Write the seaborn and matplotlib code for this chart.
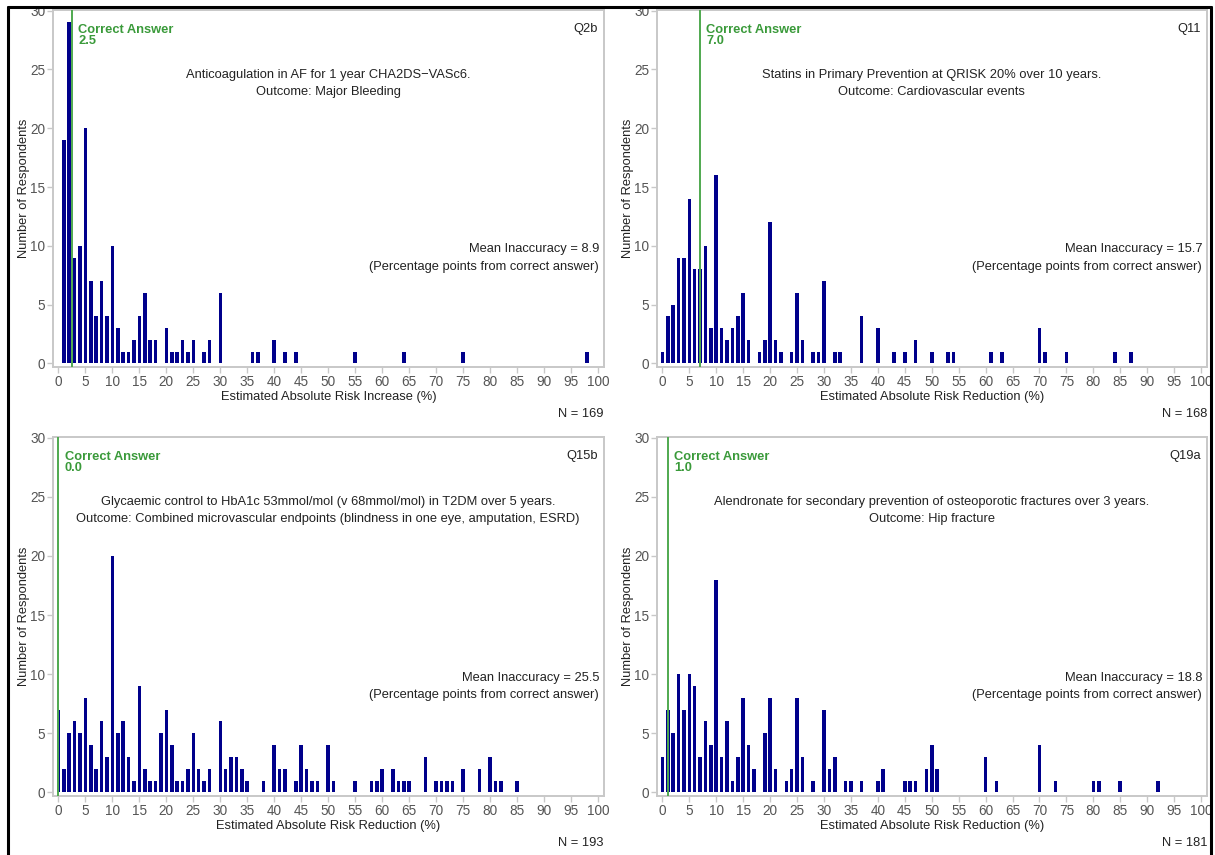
import matplotlib
matplotlib.use("Agg")
import matplotlib.pyplot as plt
import seaborn as sns
import pandas as pd
from matplotlib.lines import Line2D

# ---------------- data ----------------
q2b_x = [1, 2, 3, 4, 5, 6, 7, 8, 9, 10, 11, 12, 13, 14, 15, 16, 17, 18, 20, 21, 22, 23, 24, 25,
         27, 28, 30, 36, 37, 40, 42, 44, 55, 64, 75, 98]
q2b_y = [19, 29, 9, 10, 20, 7, 4, 7, 4, 10, 3, 1, 1, 2, 4, 6, 2, 2, 3, 1, 1, 2, 1, 2,
         1, 2, 6, 1, 1, 2, 1, 1, 1, 1, 1, 1]

q11_x = [0, 1, 2, 3, 4, 5, 6, 7, 8, 9, 10, 11, 12, 13, 14, 15, 16, 18, 19, 20, 21, 22, 24, 25,
         26, 28, 29, 30, 32, 33, 37, 40, 43, 45, 47, 50, 53, 54, 61, 63, 70, 71, 75, 84, 87]
q11_y = [1, 4, 5, 9, 9, 14, 8, 8, 10, 3, 16, 3, 2, 3, 4, 6, 2, 1, 2, 12, 2, 1, 1, 6,
         2, 1, 1, 7, 1, 1, 4, 3, 1, 1, 2, 1, 1, 1, 1, 1, 3, 1, 1, 1, 1]

q15b_x = [0, 1, 2, 3, 4, 5, 6, 7, 8, 9, 10, 11, 12, 13, 14, 15, 16, 17, 18, 19, 20, 21, 22, 23,
          24, 25, 26, 27, 28, 30, 31, 32, 33, 34, 35, 38, 40, 41, 42, 44, 45, 46, 47, 48, 50, 51,
          55, 58, 59, 60, 62, 63, 64, 65, 68, 70, 71, 72, 73, 75, 78, 80, 81, 82, 85]
q15b_y = [7, 2, 5, 6, 5, 8, 4, 2, 6, 3, 20, 5, 6, 3, 1, 9, 2, 1, 1, 5, 7, 4, 1, 1,
          2, 5, 2, 1, 2, 6, 2, 3, 3, 2, 1, 1, 4, 2, 2, 1, 4, 2, 1, 1, 4, 1,
          1, 1, 1, 2, 2, 1, 1, 1, 3, 1, 1, 1, 1, 2, 2, 3, 1, 1, 1]

q19a_x = [0, 1, 2, 3, 4, 5, 6, 7, 8, 9, 10, 11, 12, 13, 14, 15, 16, 17, 19, 20, 21, 23, 24, 25,
          26, 28, 30, 31, 32, 34, 35, 37, 40, 41, 45, 46, 47, 49, 50, 51, 60, 62, 70, 73, 80, 81,
          85, 92]
q19a_y = [3, 7, 5, 10, 7, 10, 9, 3, 6, 4, 18, 3, 6, 1, 3, 8, 4, 2, 5, 8, 2, 1, 2, 8,
          3, 1, 7, 2, 3, 1, 1, 1, 1, 2, 1, 1, 1, 2, 4, 2, 3, 1, 4, 1, 1, 1,
          1, 1]

codes = ["Q2b", "Q11", "Q15b", "Q19a"]
correct = [2.5, 7.0, 0.0, 1.0]
titles1 = ["Anticoagulation in AF for 1 year CHA2DS\u2212VASc6.",
           "Statins in Primary Prevention at QRISK 20% over 10 years.",
           "Glycaemic control to HbA1c 53mmol/mol (v 68mmol/mol) in T2DM over 5 years.",
           "Alendronate for secondary prevention of osteoporotic fractures over 3 years."]
titles2 = ["Outcome: Major Bleeding",
           "Outcome: Cardiovascular events",
           "Outcome: Combined microvascular endpoints (blindness in one eye, amputation, ESRD)",
           "Outcome: Hip fracture"]
mean_inacc = ["8.9", "15.7", "25.5", "18.8"]
n_resp = [169, 168, 193, 181]
xlabels = ["Estimated Absolute Risk Increase (%)",
           "Estimated Absolute Risk Reduction (%)",
           "Estimated Absolute Risk Reduction (%)",
           "Estimated Absolute Risk Reduction (%)"]
xticks = list(range(0, 101, 5))
yticks = list(range(0, 31, 5))

series = [(q2b_x, q2b_y), (q11_x, q11_y), (q15b_x, q15b_y), (q19a_x, q19a_y)]

# ---------------- style ----------------
sns.set_theme(style="white")
plt.rcParams["font.family"] = ["Liberation Sans", "DejaVu Sans"]

W, H = 1215, 855
fig = plt.figure(figsize=(W / 100, H / 100), dpi=100)

navy = "#00008B"
green_line = "#4fa94f"
green_text = "#3a9a3a"
spine_col = "#c8c8c8"
tick_col = "#555555"
txt_col = "#222222"
fs = 9.3

# axes rectangles in pixels: (left, top, right, bottom)
rects = [(53, 10, 604, 367), (657, 10, 1207, 367),
         (53, 437, 604, 796), (657, 437, 1207, 796)]

for i, ((xs, ys), (l, t, r, b)) in enumerate(zip(series, rects)):
    ax = fig.add_axes([l / W, 1 - b / H, (r - l) / W, (b - t) / H])
    df = pd.DataFrame({"x": xs, "y": ys})
    sns.barplot(data=df, x="x", y="y", native_scale=True, width=0.66,
                color=navy, saturation=1, errorbar=None, linewidth=0, ax=ax)
    ax.axvline(correct[i], color=green_line, lw=1.4, zorder=5)
    ax.set_xlim(-1, 101.1)
    ax.set_ylim(-0.3, 30.05)
    ax.set_xticks(xticks)
    ax.set_xticklabels([str(v) for v in xticks])
    ax.set_yticks(yticks)
    ax.set_yticklabels([str(v) for v in yticks])
    for s in ax.spines.values():
        s.set_color(spine_col)
        s.set_linewidth(1.4)
    ax.tick_params(axis="both", which="major", direction="out", length=4, width=1,
                   color=spine_col, labelcolor=tick_col, labelsize=9.8, pad=1.5,
                   bottom=True, left=True)
    ax.set_xlabel(xlabels[i], fontsize=fs, color=txt_col, labelpad=1.5)
    ax.set_ylabel("Number of Respondents", fontsize=fs, color=txt_col, labelpad=0.5)

    ax.annotate("Correct Answer\n%.1f" % correct[i], xy=(correct[i], 1.0),
                xycoords=("data", "axes fraction"), xytext=(4.5, -10),
                textcoords="offset points", ha="left", va="top", color=green_text,
                fontsize=fs, fontweight="bold", linespacing=0.85)
    ax.annotate(codes[i], xy=(1.0, 1.0), xycoords="axes fraction", xytext=(-4.5, -9),
                textcoords="offset points", ha="right", va="top", fontsize=fs,
                color=txt_col)
    ax.text(50, 24.55, titles1[i], ha="center", va="center", fontsize=fs, color=txt_col)
    ax.text(50, 23.1, titles2[i], ha="center", va="center", fontsize=fs, color=txt_col)
    ax.text(100.2, 9.7, "Mean Inaccuracy = " + mean_inacc[i], ha="right", va="center",
            fontsize=fs, color=txt_col)
    ax.text(100.2, 8.2, "(Percentage points from correct answer)", ha="right",
            va="center", fontsize=fs, color=txt_col)
    ax.annotate("N = %d" % n_resp[i], xy=(1.0, 0.0), xycoords="axes fraction",
                xytext=(0, -34), textcoords="offset points", ha="right", va="center",
                fontsize=fs, color=txt_col)

# outer black frame (left, top, right)
frame_kw = dict(color="black", lw=2.2, transform=fig.transFigure)
fig.add_artist(Line2D([8 / W, 8 / W], [0, 1 - 7 / H], **frame_kw))
fig.add_artist(Line2D([8 / W, 1211 / W], [1 - 7 / H, 1 - 7 / H], **frame_kw))
fig.add_artist(Line2D([1211 / W, 1211 / W], [0, 1 - 7 / H], **frame_kw))

fig.savefig("out.png", dpi=100)
